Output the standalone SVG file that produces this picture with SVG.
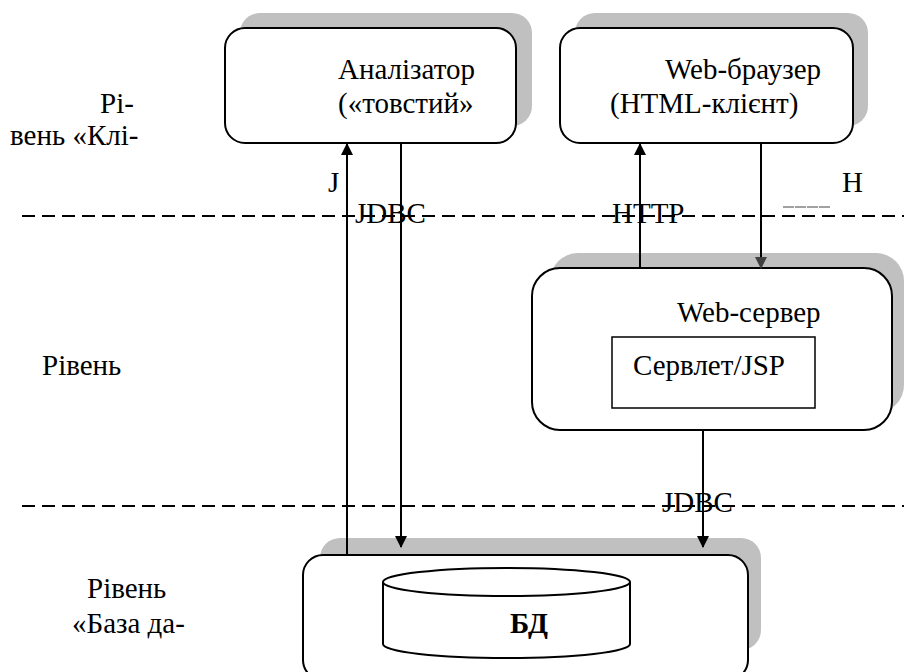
<svg xmlns="http://www.w3.org/2000/svg" width="904" height="672" viewBox="0 0 904 672" font-family="'Liberation Serif', 'DejaVu Serif', serif">
<style>
text{font-family:'Liberation Serif','DejaVu Serif',serif;font-size:29px;fill:#000}
.box{fill:#fff;stroke:#000;stroke-width:2}
.sh{fill:#c0c0c0;stroke:none}
.dash{stroke:#000;stroke-width:2;stroke-dasharray:13 7;fill:none}
.ln{stroke:#000;stroke-width:2;fill:none}
</style>
<defs>
<marker id="ah" markerWidth="12" markerHeight="16" refX="11" refY="6" orient="auto" markerUnits="userSpaceOnUse" viewBox="0 0 12 12"><path d="M0,0 L12,6 L0,12 z" fill="#000"/></marker>
<marker id="ahg" markerWidth="12" markerHeight="16" refX="11" refY="6" orient="auto" markerUnits="userSpaceOnUse" viewBox="0 0 12 12"><path d="M0,0 L12,6 L0,12 z" fill="#404040"/></marker>
</defs>
<rect width="904" height="672" fill="#fff"/>
<g id="levels">
<line class="dash" x1="22" y1="216" x2="904" y2="216"/>
<line class="dash" x1="22" y1="506" x2="904" y2="506"/>
<text x="100" y="113">Рі-</text>
<text x="10" y="145">вень «Клі-</text>
<text x="42" y="375">Рівень</text>
<text x="87" y="598">Рівень</text>
<text x="72" y="633">«База да-</text>
</g>
<g id="analyzer">
<rect class="sh" x="240" y="13" width="292" height="113" rx="20"/>
<rect class="box" x="225" y="28" width="291" height="115" rx="20"/>
<text x="338" y="79">Аналізатор</text>
<text x="338" y="113">(«товстий»</text>
</g>
<g id="browser">
<rect class="sh" x="575" y="13" width="293" height="113" rx="20"/>
<rect class="box" x="560" y="28" width="293" height="115" rx="20"/>
<text x="665" y="79">Web-браузер</text>
<text x="610" y="113">(HTML-клієнт)</text>
</g>
<g id="webserver">
<rect class="sh" x="550" y="253" width="354" height="160" rx="28"/>
<rect class="box" x="532" y="268" width="360" height="162" rx="28"/>
<text x="677" y="322">Web-сервер</text>
<rect x="612" y="337" width="203" height="71" fill="#fff" stroke="#000" stroke-width="1.5"/>
<text x="633" y="375">Сервлет/JSP</text>
</g>
<g id="db">
<rect class="sh" x="320" y="538" width="441" height="112" rx="20"/>
<rect class="box" x="303" y="555" width="445" height="125" rx="20"/>
<path d="M383,582 L383,644 A123,14 0 0 0 630,644 L630,582" fill="#fff" stroke="#000" stroke-width="2"/>
<ellipse cx="506.5" cy="582" rx="123.5" ry="14" fill="#fff" stroke="#000" stroke-width="2"/>
<text x="510" y="633" font-weight="bold">БД</text>
</g>
<g id="connectors">
<line class="ln" x1="347" y1="555" x2="347" y2="144" marker-end="url(#ah)"/>
<line class="ln" x1="401" y1="143" x2="401" y2="547" marker-end="url(#ah)"/>
<line class="ln" x1="640" y1="268" x2="640" y2="144" marker-end="url(#ah)"/>
<line class="ln" x1="761" y1="143" x2="761" y2="268" stroke="#404040" marker-end="url(#ahg)"/>
<line class="ln" x1="703" y1="430" x2="703" y2="547" marker-end="url(#ah)"/>
<text x="328" y="192">J</text>
<text x="355" y="223">JDBC</text>
<text x="612" y="223">HTTP</text>
<text x="842" y="192">H</text>
<line x1="783" y1="207" x2="831" y2="207" stroke="#444" stroke-width="1.2" stroke-dasharray="11 1"/>
<text x="662" y="512">JDBC</text>
</g>
</svg>
